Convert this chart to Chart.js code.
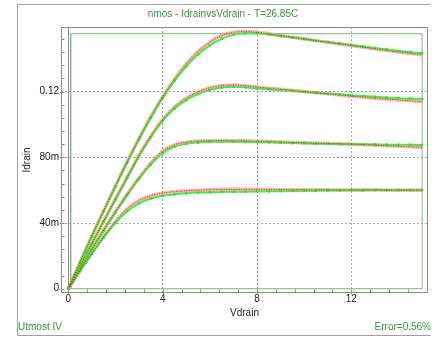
<!DOCTYPE html>
<html>
<head>
<meta charset="utf-8">
<title>nmos - IdrainvsVdrain</title>
<script src="https://cdn.jsdelivr.net/npm/chart.js@4.4.1/dist/chart.umd.min.js"></script>
<style>
  html, body { margin: 0; padding: 0; background: #fff; overflow: hidden; }
  #wrap { width: 432px; height: 338px; }
</style>
</head>
<body>
<div id="wrap"><canvas id="ivChart" width="432" height="338"></canvas></div>
<script>
// Vdrain sweep (V)
const vdrain = [0, 0.5, 1, 1.5, 2, 2.5, 3, 3.5, 4, 4.5, 5, 5.5, 6, 6.5, 7, 7.5,
                8, 8.5, 9, 9.5, 10, 10.5, 11, 11.5, 12, 12.5, 13, 13.5, 14, 14.5, 15];

// simulated Idrain (green, with markers), one array per gate step
const idSim1 = [0, 0.0160, 0.0320, 0.0472, 0.0622, 0.0770, 0.0910, 0.1040, 0.1160, 0.1265, 0.1352,
                0.1425, 0.1481, 0.1521, 0.1545, 0.1555, 0.1555, 0.1548, 0.1538, 0.1529, 0.1520,
                0.1510, 0.1501, 0.1492, 0.1483, 0.1474, 0.1465, 0.1456, 0.1447, 0.1440, 0.1433];
const idSim2 = [0, 0.0138, 0.0275, 0.0410, 0.0543, 0.0675, 0.0808, 0.0922, 0.1022, 0.1096, 0.1148,
                0.1185, 0.1210, 0.1225, 0.1230, 0.1226, 0.1218, 0.1213, 0.1209, 0.1205, 0.1199,
                0.1193, 0.1188, 0.1183, 0.1178, 0.1173, 0.1168, 0.1164, 0.1160, 0.1157, 0.1155];
const idSim3 = [0, 0.0120, 0.0240, 0.0355, 0.0465, 0.0570, 0.0668, 0.0755, 0.0825, 0.0864, 0.0882,
                0.0890, 0.0894, 0.0895, 0.0895, 0.0894, 0.0893, 0.0891, 0.0889, 0.0887, 0.0885,
                0.0884, 0.0882, 0.0881, 0.0880, 0.0879, 0.0878, 0.0877, 0.0876, 0.0876, 0.0875];
const idSim4 = [0, 0.0108, 0.0213, 0.0312, 0.0400, 0.0472, 0.0520, 0.0549, 0.0566, 0.0575, 0.0581,
                0.0585, 0.0587, 0.0589, 0.0590, 0.0591, 0.0592, 0.0593, 0.0594, 0.0595, 0.0596,
                0.0597, 0.0598, 0.0599, 0.0600, 0.0600, 0.0601, 0.0601, 0.0601, 0.0601, 0.0601];

// measured Idrain (red dotted)
const idMeas1 = [0, 0.0162, 0.0322, 0.0476, 0.0627, 0.0775, 0.0916, 0.1048, 0.1168, 0.1275, 0.1368,
                 0.1443, 0.1501, 0.1540, 0.1560, 0.1565, 0.1561, 0.1552, 0.1541, 0.1531, 0.1521,
                 0.1510, 0.1500, 0.1490, 0.1480, 0.1470, 0.1460, 0.1450, 0.1441, 0.1432, 0.1424];
const idMeas2 = [0, 0.0139, 0.0277, 0.0413, 0.0547, 0.0680, 0.0813, 0.0930, 0.1030, 0.1106, 0.1160,
                 0.1198, 0.1223, 0.1236, 0.1240, 0.1236, 0.1228, 0.1221, 0.1214, 0.1207, 0.1200,
                 0.1193, 0.1186, 0.1179, 0.1172, 0.1166, 0.1160, 0.1154, 0.1149, 0.1144, 0.1139];
const idMeas3 = [0, 0.0121, 0.0242, 0.0358, 0.0470, 0.0577, 0.0677, 0.0766, 0.0838, 0.0876, 0.0892,
                 0.0899, 0.0901, 0.0902, 0.0901, 0.0900, 0.0898, 0.0896, 0.0893, 0.0890, 0.0888,
                 0.0886, 0.0884, 0.0882, 0.0880, 0.0877, 0.0874, 0.0870, 0.0867, 0.0864, 0.0861];
const idMeas4 = [0, 0.0110, 0.0217, 0.0319, 0.0410, 0.0487, 0.0537, 0.0566, 0.0582, 0.0591, 0.0596,
                 0.0600, 0.0602, 0.0604, 0.0605, 0.0605, 0.0605, 0.0604, 0.0604, 0.0603, 0.0603,
                 0.0602, 0.0602, 0.0601, 0.0601, 0.0601, 0.0601, 0.0600, 0.0600, 0.0600, 0.0600];

// green extent box of the fit
const boxX = [0.1, 15, 15, 0.1, 0.1];
const boxY = [0, 0, 0.1552, 0.1552, 0];

// axis ticks
const xTicks = [0, 4, 8, 12];
const yTicks = [0, 0.04, 0.08, 0.12];
const yTickLabels = ['0', '40m', '80m', '0.12'];

const titleText = 'nmos - IdrainvsVdrain - T=26.85C';
const noteLeft = 'Utmost IV';
const noteRight = 'Error=0.56%';

const GREEN_TEXT = '#3f8f3f';
const FONT = '"Liberation Sans", Arial, sans-serif';

function pts(xs, ys) {
    return xs.map((v, i) => ({ x: v, y: ys[i] }));
}

const measured = [idMeas1, idMeas2, idMeas3, idMeas4];
const simulated = [idSim1, idSim2, idSim3, idSim4];

const datasets = [];
// red dots on top
measured.forEach(ys => {
    datasets.push({
        data: pts(vdrain, ys),
        borderColor: '#d81818',
        borderWidth: 1,
        borderDash: [1, 1.5],
        pointRadius: 0,
        cubicInterpolationMode: 'monotone',
        order: 0
    });
});
// green simulated lines with square markers
simulated.forEach(ys => {
    datasets.push({
        data: pts(vdrain, ys),
        borderColor: '#46ec46',
        borderWidth: 2,
        pointStyle: 'rect',
        pointRadius: 1.8,
        pointBackgroundColor: '#3fdc3f',
        pointBorderWidth: 0,
        cubicInterpolationMode: 'monotone',
        order: 1
    });
});
// pink halo under the measured dots
measured.forEach(ys => {
    datasets.push({
        data: pts(vdrain, ys),
        borderColor: 'rgba(255, 130, 130, 0.6)',
        borderWidth: 3.5,
        pointRadius: 0,
        cubicInterpolationMode: 'monotone',
        order: 2
    });
});
datasets.push({
    data: pts(boxX, boxY),
    borderColor: '#7db57d',
    borderWidth: 1,
    pointRadius: 0,
    tension: 0,
    order: 3
});

// frame, zero line, minor ticks and footer notes
const decorations = {
    id: 'decorations',
    afterDraw(chart) {
        const { ctx, chartArea: a } = chart;
        const xs = chart.scales.x, ys = chart.scales.y;
        ctx.save();
        ctx.lineWidth = 1;
        ctx.setLineDash([]);

        // outer frame
        ctx.strokeStyle = '#a0a0a0';
        ctx.beginPath();
        ctx.moveTo(430.5, 4.5);
        ctx.lineTo(17.5, 4.5);
        ctx.lineTo(17.5, 335.5);
        ctx.lineTo(430.5, 335.5);
        ctx.stroke();

        // plot frame
        ctx.strokeStyle = '#8c8c8c';
        ctx.strokeRect(a.left + 0.5, a.top + 0.5, a.width - 1, a.height - 1);

        // x = 0 line
        const x0 = Math.round(xs.getPixelForValue(0)) + 0.5;
        ctx.beginPath();
        ctx.moveTo(x0, a.top);
        ctx.lineTo(x0, a.bottom);
        ctx.stroke();

        // x ticks: minor every 0.8 V, major every 4 V
        const xb = a.bottom - 0.5;
        ctx.beginPath();
        for (let k = 0; k * 0.8 <= 15.2; k++) {
            const px = Math.round(xs.getPixelForValue(k * 0.8)) + 0.5;
            const major = k % 5 === 0;
            ctx.moveTo(px, xb + (major ? 2 : 0));
            ctx.lineTo(px, xb - 3);
        }
        // y ticks: minor every 8m, major every 40m
        const yl = a.left + 0.5;
        for (let k = 0; k * 0.008 <= 0.158; k++) {
            const py = Math.round(ys.getPixelForValue(k * 0.008)) + 0.5;
            const major = k % 5 === 0;
            ctx.moveTo(yl - (major ? 2 : 0), py);
            ctx.lineTo(yl + 3, py);
        }
        ctx.stroke();

        // footer notes
        ctx.font = '10px ' + FONT;
        ctx.fillStyle = GREEN_TEXT;
        ctx.textBaseline = 'middle';
        ctx.textAlign = 'left';
        ctx.fillText(noteLeft, 18, 327);
        ctx.textAlign = 'right';
        ctx.fillText(noteRight, 431, 327);
        ctx.restore();
    }
};

const gridColor = ctx => (ctx.tick && ctx.tick.value === 0) ? 'rgba(0,0,0,0)' : '#a8a8a8';

new Chart(document.getElementById('ivChart'), {
    type: 'line',
    data: { datasets: datasets },
    options: {
        responsive: false,
        animation: false,
        devicePixelRatio: 1,
        layout: { padding: { left: 17, right: 3, top: 4, bottom: 2 } },
        plugins: {
            legend: { display: false },
            tooltip: { enabled: false },
            title: {
                display: true,
                text: titleText,
                color: GREEN_TEXT,
                font: { family: FONT, size: 10, weight: 'normal' },
                padding: { top: 4, bottom: 7 }
            }
        },
        scales: {
            x: {
                type: 'linear',
                min: -0.31,
                max: 15.25,
                afterBuildTicks: scale => { scale.ticks = xTicks.map(v => ({ value: v })); },
                afterFit: scale => { scale.height = 43; },
                grid: { color: gridColor, lineWidth: 1, drawTicks: false },
                border: { display: false, dash: [2, 2] },
                ticks: {
                    color: '#222',
                    font: { family: FONT, size: 10 },
                    padding: 0,
                    maxRotation: 0,
                    callback: v => String(v)
                },
                title: {
                    display: true,
                    text: 'Vdrain',
                    color: '#222',
                    font: { family: FONT, size: 10 },
                    padding: { top: 0, bottom: 17 }
                }
            },
            y: {
                type: 'linear',
                min: -0.0026,
                max: 0.1593,
                afterBuildTicks: scale => { scale.ticks = yTicks.map(v => ({ value: v })); },
                afterFit: scale => { scale.width = 44; },
                grid: { color: gridColor, lineWidth: 1, drawTicks: false },
                border: { display: false, dash: [2, 2] },
                ticks: {
                    color: '#222',
                    font: { family: FONT, size: 10 },
                    padding: 2,
                    callback: v => {
                        const i = yTicks.indexOf(v);
                        return i >= 0 ? yTickLabels[i] : '';
                    }
                },
                title: {
                    display: true,
                    text: 'Idrain',
                    color: '#222',
                    font: { family: FONT, size: 10 },
                    padding: { top: 4, bottom: 0 }
                }
            }
        }
    },
    plugins: [decorations]
});
</script>
</body>
</html>
